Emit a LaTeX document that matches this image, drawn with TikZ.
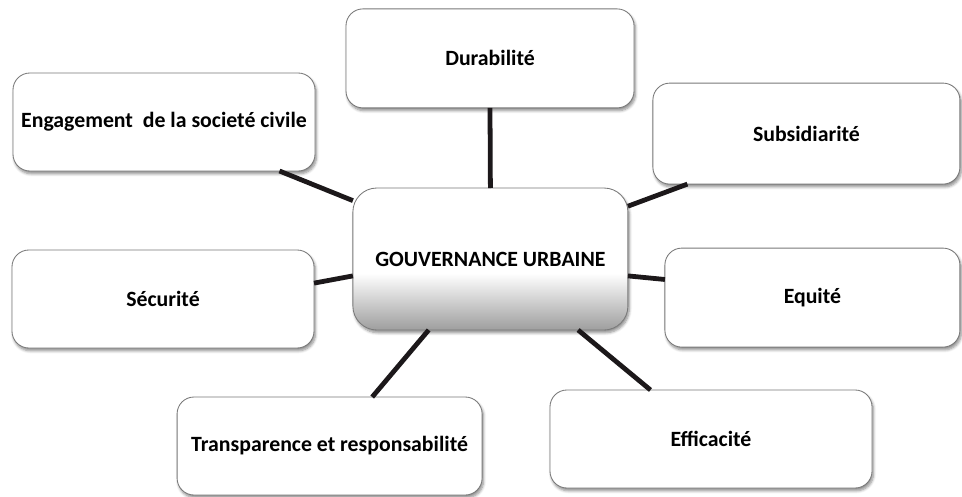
\documentclass[tikz,border=0pt]{standalone}
\usepackage{fontspec}
\setmainfont{Carlito}
\usetikzlibrary{shadows,shadows.blur}
\definecolor{govline}{RGB}{28,24,26}
\definecolor{govedge}{RGB}{120,120,120}
\pgfdeclareverticalshading{govshade}{100bp}{color(0bp)=(black!42); color(25bp)=(black!38); color(45bp)=(white); color(100bp)=(white)}

\begin{document}
\begin{tikzpicture}[
  govbox/.style={draw=govedge,line width=0.6pt,fill=white,rounded corners=12pt,
    outer sep=0pt,minimum height=2.45cm,align=center,
    font=\fontsize{15.5}{18}\selectfont\bfseries,
    blur shadow={shadow blur steps=6,shadow xshift=1pt,shadow yshift=-2pt,shadow opacity=45}},
  govlink/.style={govline,line width=3.4pt}
]
  \useasboundingbox (0,0) rectangle (24.05,12.4);

  % Centre
  \node[govbox,shading=govshade,rounded corners=17pt,minimum width=6.875cm,
    minimum height=3.55cm] (gov) at (12.26,5.925) {GOUVERNANCE URBAINE};

  % Principles round the centre
  \node[govbox,minimum width=7.2cm,minimum height=2.475cm] (dura) at (12.25,10.94) {Durabilité};
  \node[govbox,minimum width=7.55cm] (engag) at (4.1,9.35) {Engagement\ \ de la societé civile};
  \node[govbox,minimum width=7.675cm,minimum height=2.525cm] (subs) at (20.16,9.06) {Subsidiarité};
  \node[govbox,minimum width=7.55cm] (secu) at (4.075,4.925) {Sécurité};
  \node[govbox,minimum width=7.375cm,minimum height=2.475cm] (equi) at (20.31,4.96) {Equité};
  \node[govbox,minimum width=7.625cm] (trans) at (8.24,1.25) {Transparence et responsabilité};
  \node[govbox,minimum width=8.05cm] (effi) at (17.775,1.425) {Efficacité};

  % Links
  \draw[govlink] (dura.south) -- (gov.north);
  \draw[govlink] (engag.-23.6) -- (gov.157.5);
  \draw[govlink] (subs.-157.3) -- (gov.21.1);
  \draw[govlink] (secu.6.4) -- (gov.-173.4);
  \draw[govlink] (equi.173.2) -- (gov.-7);
  \draw[govlink] (trans.49) -- (gov.-131);
  \draw[govlink] (effi.141) -- (gov.-39.4);
\end{tikzpicture}
\end{document}
